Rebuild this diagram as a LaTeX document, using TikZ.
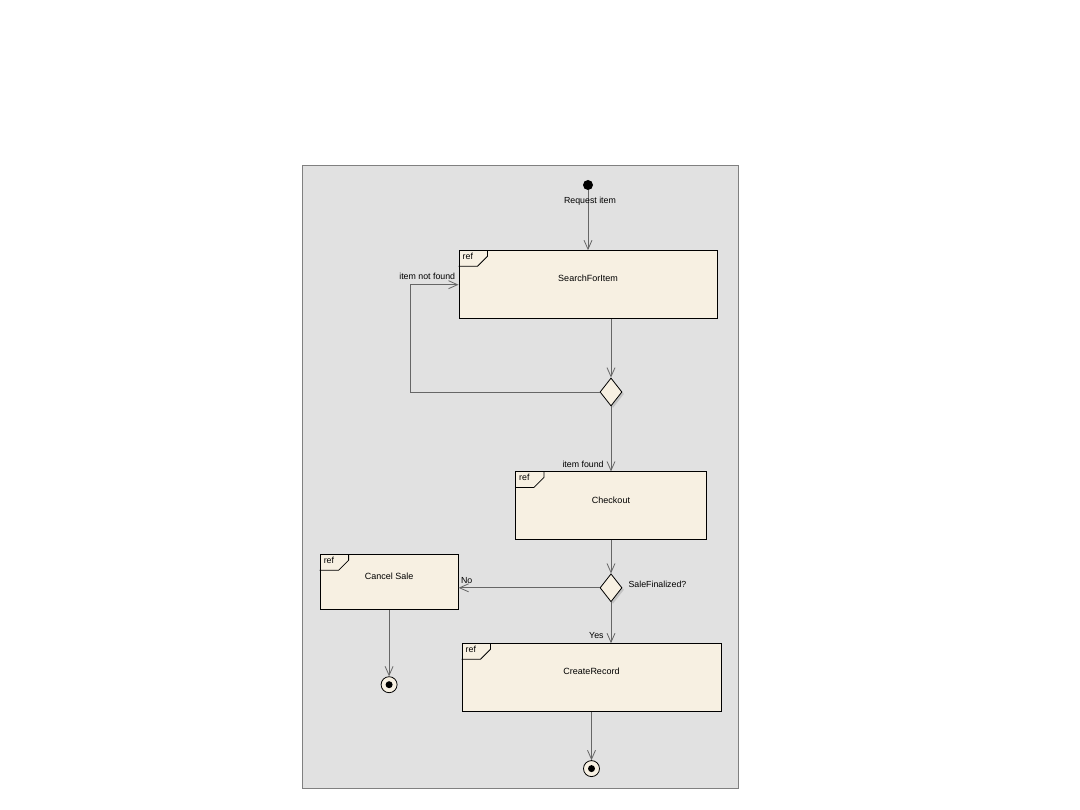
\documentclass[tikz,border=0pt]{standalone}
\usepackage{fontspec}
\setmainfont{Liberation Sans}
\usetikzlibrary{arrows.meta,positioning,shapes.geometric,shadows}

\definecolor{framebg}{HTML}{E1E1E1}
\definecolor{actfill}{HTML}{F7F0E2}
\definecolor{linegray}{HTML}{666666}

\begin{document}
\begin{tikzpicture}[
  x=1pt, y=-1pt,
  font=\fontsize{9}{10}\selectfont,
  refbox/.style={draw, fill=actfill, line width=1pt, minimum width=#1, minimum height=68pt, inner sep=0pt, text depth=12pt},
  refbox/.default=258pt,
  decision/.style={diamond, draw, fill=actfill, line width=0.8pt, minimum width=22pt, minimum height=28pt, inner sep=0pt,
    drop shadow={shadow xshift=2pt, shadow yshift=-2pt, fill=gray!70}},
  initial/.style={circle, fill=black, minimum size=10pt, inner sep=0pt},
  final/.style={circle, draw, fill=actfill, line width=0.8pt, minimum size=16pt, inner sep=0pt,
    path picture={\fill[black] (path picture bounding box.center) circle (3.5pt);}},
  arrow/.style={-{Straight Barb[length=9pt, width=8pt]}, line width=0.8pt, color=linegray},
  lbl/.style={font=\fontsize{8.8}{10}\selectfont, inner sep=1pt, text=black}
]
  \useasboundingbox[fill=white] (0,0) rectangle (1080,810);
  \draw[fill=framebg, draw=gray, line width=1pt] (302,166) rectangle (738,788);

  \node[initial] (start) at (588,185) {};
  \node[refbox, below=60pt of start] (srch) {SearchForItem};
  \node[decision] (dec1) at (611,392) {};
  \node[refbox=191pt, below=65pt of dec1] (chk) {Checkout};
  \node[decision, below=33pt of chk] (dec2) {};
  \node[refbox=138pt, minimum height=55pt, left=141pt of dec2, yshift=5.5pt] (cancel) {Cancel Sale};
  \node[refbox=259pt, below=41pt of dec2, xshift=-19.5pt] (create) {CreateRecord};
  \node[final, below=66pt of cancel] (end1) {};
  \node[final, below=48pt of create] (end2) {};

  % ref tabs
  \foreach \b in {srch, chk, cancel, create} {
    \draw[line width=0.8pt] ([yshift=-16pt]\b.north west) -- ++(19,0) -- ++(10,-10) -- ++(0,-6);
    \node[lbl, anchor=north west] at ([xshift=3pt, yshift=-2pt]\b.north west) {ref};
  }

  \draw[arrow] (start) -- node[lbl, pos=0.18, xshift=2pt] {Request item} (srch);
  \draw[arrow] (srch.south -| dec1.north) -- (dec1);
  \draw[arrow] (dec1.west) -| ([xshift=-48pt]srch.west) -- (srch.west)
    node[lbl, anchor=south east, xshift=-2pt, yshift=4pt] {item not found};
  \draw[arrow] (dec1) -- (chk.north)
    node[lbl, anchor=south east, xshift=-6pt, yshift=2pt] {item found};
  \draw[arrow] (chk) -- (dec2);
  \node[lbl, anchor=south west] (salefin) at ([xshift=5pt, yshift=-1pt]dec2.east) {SaleFinalized?};
  \draw[arrow] (dec2.west) -- (cancel.east |- dec2.west)
    node[lbl, anchor=south west, xshift=1pt, yshift=3pt] {No};
  \draw[arrow] (dec2.south) -- (dec2.south |- create.north)
    node[lbl, anchor=south east, xshift=-6pt, yshift=3pt] {Yes};
  \draw[arrow] (cancel.south -| end1.north) -- (end1);
  \draw[arrow] (create.south -| end2.north) -- (end2);
\end{tikzpicture}
\end{document}
